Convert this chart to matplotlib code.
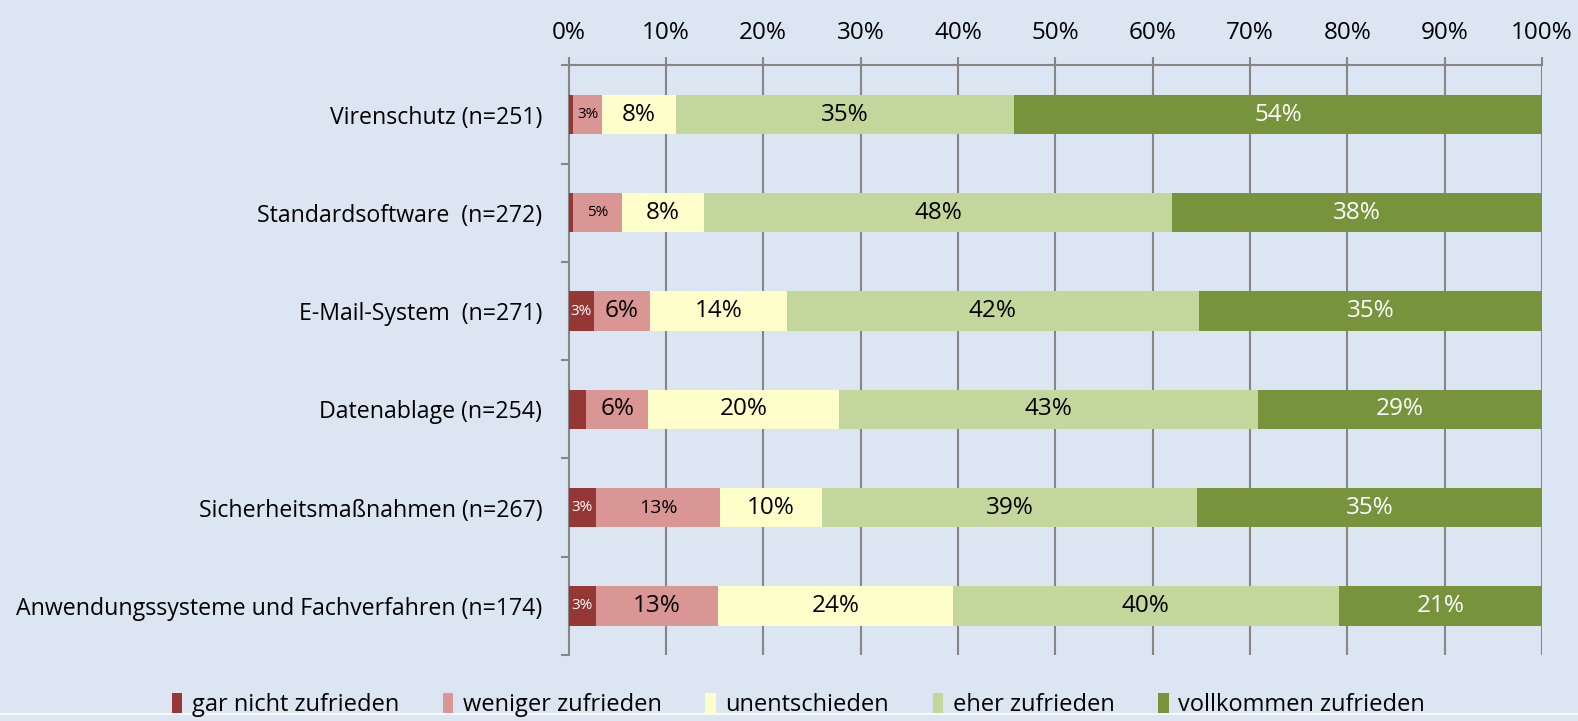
import numpy as np
import matplotlib.pyplot as plt
from matplotlib.patches import Patch
from matplotlib.lines import Line2D

plt.rcParams['font.family'] = ['Open Sans', 'DejaVu Sans']

categories = [
    "Virenschutz (n=251)",
    "Standardsoftware  (n=272)",
    "E-Mail-System  (n=271)",
    "Datenablage (n=254)",
    "Sicherheitsmaßnahmen (n=267)",
    "Anwendungssysteme und Fachverfahren (n=174)",
]
series = ["gar nicht zufrieden", "weniger zufrieden", "unentschieden",
          "eher zufrieden", "vollkommen zufrieden"]

gar_nicht = [0.5, 0.5, 2.6, 1.8, 2.8, 2.8]
weniger = [2.9, 5.0, 5.8, 6.4, 12.8, 12.6]
unentschieden = [7.6, 8.4, 14.0, 19.6, 10.4, 24.1]
eher = [34.8, 48.1, 42.4, 43.0, 38.6, 39.6]
vollkommen = [54.2, 38.0, 35.2, 29.2, 35.4, 20.9]

colors = ["#953735", "#D99694", "#FFFFCC", "#C3D69B", "#77933C"]
label_colors = ["white", "black", "black", "black", "white"]
bg = "#DCE6F2"
axis_gray = "#868686"

data = np.array([gar_nicht, weniger, unentschieden, eher, vollkommen])

fig = plt.figure(figsize=(15.78, 7.21), dpi=100, facecolor=bg)
ax = fig.add_axes([0.3603, 0.0915, 0.9772 - 0.3603, 0.9093 - 0.0915])
ax.set_facecolor(bg)

y = np.arange(len(categories))
left = np.zeros(len(categories))
for k in range(len(series)):
    vals = data[k]
    ax.barh(y, vals, left=left, height=0.4, color=colors[k], label=series[k],
            zorder=3)
    for i, v in enumerate(vals):
        if v >= 2.5:
            # narrow segments get a smaller label
            size = 11 if v < 5.5 else 17.5
            if k == 1 and i == 4:
                size = 14
            ax.text(left[i] + v / 2, y[i], f"{round(v):d}%", ha="center",
                    va="center", fontsize=size, color=label_colors[k],
                    zorder=4)
    left += vals

ax.set_xlim(0, 100)
ax.set_ylim(len(categories) - 0.5, -0.5)
ax.xaxis.tick_top()
ax.set_xticks(np.arange(0, 101, 10))
ax.set_xticklabels([f"{t}%" for t in range(0, 101, 10)], fontsize=17.5)
ax.tick_params(axis="x", length=6, width=1.5, color=axis_gray, pad=9)
ax.grid(axis="x", color=axis_gray, linewidth=1.5, zorder=1)

ax.set_yticks(y)
ax.set_yticklabels(categories, fontsize=16.7)
ax.set_yticks(np.arange(-0.5, len(categories)), minor=True)
ax.tick_params(axis="y", which="major", length=0, pad=19)
ax.tick_params(axis="y", which="minor", length=6, width=1.5, color=axis_gray)

for s in ["right", "bottom"]:
    ax.spines[s].set_visible(False)
for s in ["top", "left"]:
    ax.spines[s].set_color(axis_gray)
    ax.spines[s].set_linewidth(1.5)

handles = [Patch(facecolor=c, edgecolor="none") for c in colors]
fig.legend(handles, series, loc="lower center", ncol=5, frameon=False,
           fontsize=17, bbox_to_anchor=(0.506, -0.024), handlelength=0.45,
           handleheight=0.9, handletextpad=0.4, columnspacing=1.85)

fig.add_artist(Line2D([0, 1], [0.0097, 0.0097], transform=fig.transFigure,
                      color="white", linewidth=1.2))

fig.savefig("out.png", dpi=100, facecolor=bg)
